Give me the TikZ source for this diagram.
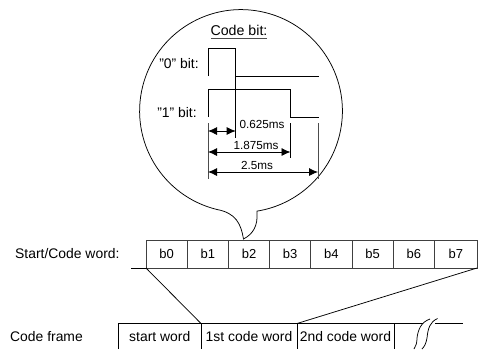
\documentclass[tikz,border=0pt]{standalone}
\usepackage{fontspec}
\setmainfont{Liberation Sans}
\usetikzlibrary{arrows.meta}
\tikzset{
  lbl/.style={inner sep=0pt,font=\fontsize{13.9}{15}\selectfont},
  ms/.style={inner sep=0pt,font=\fontsize{11.7}{14}\selectfont},
  bitcell/.style={draw=black!75,line width=0.8pt,minimum width=41.2pt,minimum height=28pt,inner sep=0pt,outer sep=0pt,font=\fontsize{13}{15}\selectfont},
  framecell/.style={inner sep=0pt,outer sep=0pt,minimum height=25.5pt,font=\fontsize{13.9}{15}\selectfont},
  wire/.style={black,line width=0.75pt},
  guide/.style={black!70,line width=0.9pt},
  dim/.style={black,line width=0.8pt,{Latex[length=9pt,width=8pt]}-{Latex[length=9pt,width=8pt]}}
}
\begin{document}
\begin{tikzpicture}[x=1pt,y=-1pt]
\useasboundingbox (0,0) rectangle (478,349);
\fill[white] (0,0) rectangle (478,349);
% bubble
\coordinate (tip) at (243.5,239);
\draw[wire] (257,212) .. controls (258,226) and (253,234) .. (tip)
  .. controls (241,224) and (236,213) .. (217,209.5)
  arc[start angle=256.3,end angle=-80.9,radius=101.4pt] -- cycle;
% code bit
\node[lbl,font=\fontsize{14.2}{17}\selectfont] (title) at (239,30) {Code bit:};
\coordinate (ua) at (211,38); \coordinate (ub) at (267,38);
\draw[guide] (ua) -- (ub);
\node[lbl] (zero) at (179,64) {"0" bit:};
\node[lbl] (one) at (177,113) {"1" bit:};
% waveforms
\draw[wire] (208,76) -- (208,48) -- (235.7,48) -- (235.7,76) -- (319,76);
\draw[wire] (208,117) -- (208,89) -- (290.5,89) -- (290.5,117) -- (319,117);
% guides
\draw[wire] (235.7,76) -- (235.7,138);
\draw[guide] (208,123) -- (208,179);
\draw[wire] (290.5,123) -- (290.5,158);
\draw[guide] (318,123) -- (318,179);
% dims
\coordinate (d1a) at (208,131); \coordinate (d1b) at (235.7,131);
\coordinate (d2a) at (208,152); \coordinate (d2b) at (290.5,152);
\coordinate (d3a) at (208,172); \coordinate (d3b) at (318,172);
\draw[dim] (d1a) -- (d1b);
\draw[dim] (d2a) -- (d2b);
\draw[dim] (d3a) -- (d3b);
\node[ms] (t1) at (262,124) {0.625ms};
\node[ms] (t2) at (256,145) {1.875ms};
\node[ms] (t3) at (257,165) {2.5ms};
% word
\node[lbl,anchor=west] (wordlabel) at (15,254) {Start/Code word:};
\node[bitcell] (b0) at (166.6,254) {b0};
\node[bitcell] (b1) at (207.8,254) {b1};
\node[bitcell] (b2) at (249.0,254) {b2};
\node[bitcell] (b3) at (290.2,254) {b3};
\node[bitcell] (b4) at (331.4,254) {b4};
\node[bitcell] (b5) at (372.6,254) {b5};
\node[bitcell] (b6) at (413.8,254) {b6};
\node[bitcell,minimum width=42.2pt] (b7) at (455.9,254) {b7};
\coordinate (wl) at (131,268);
\draw[wire] (wl) -- (b0.south west);
% frame
\node[lbl,anchor=west] (framelabel) at (10,337) {Code frame};
\node[framecell,minimum width=82.5pt] (f0) at (159.75,336.25) {start word};
\node[framecell,minimum width=96pt] (f1) at (249,336.25) {1st code word};
\node[framecell,minimum width=97pt] (f2) at (345.5,336.25) {2nd code word};
\coordinate (fend) at (463,323.5);
\draw[wire] (f0.south west) -- (f0.north west) -- (fend);
\draw[wire] (f0.north east) -- (f0.south east);
\draw[wire] (f1.north east) -- (f1.south east);
\draw[wire] (f2.north east) -- (f2.south east);
\draw[wire] (b0.south west) -- (f0.north east);
\draw[wire] (b7.south east) -- (f1.north east);
% break
\fill[white] (424,322) -- (437,318) -- (425,349) -- (412,349) -- cycle;
\draw[wire] (430,319) .. controls (421,322) and (418,330) .. (417,338) .. controls (417,343) and (416,346) .. (414,349);
\draw[wire] (437.5,318.5) .. controls (430,322) and (428,328) .. (427,338) .. controls (426,343) and (425,346) .. (422,349);
\end{tikzpicture}
\end{document}
